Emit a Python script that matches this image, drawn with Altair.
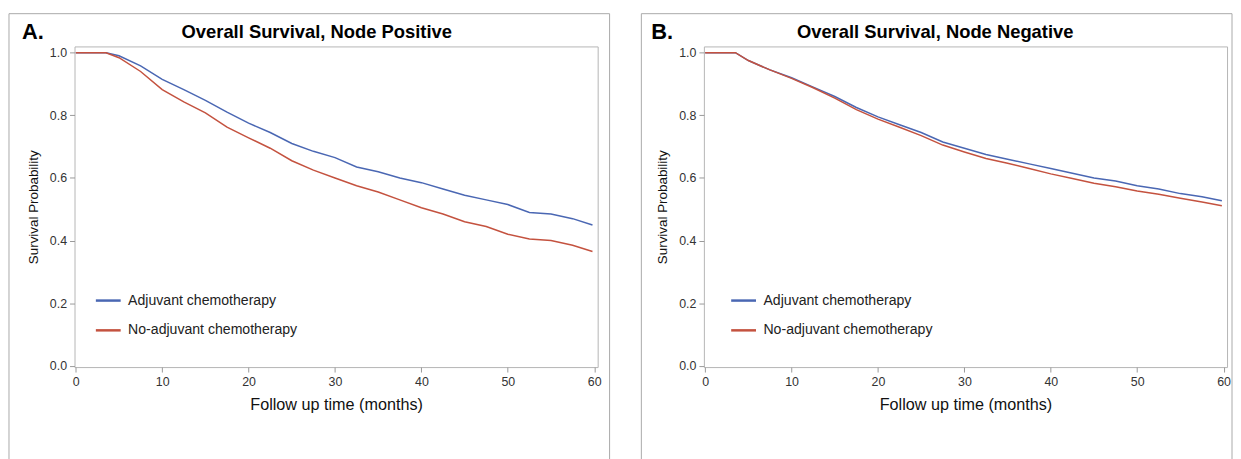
import altair as alt
import pandas as pd

# ---- data (Kaplan-Meier survival estimates) ----
months = [0, 3.5, 5, 7.5, 10, 12.5, 15, 17.5, 20, 22.5, 25, 27.5, 30,
          32.5, 35, 37.5, 40, 42.5, 45, 47.5, 50, 52.5, 55, 57.5, 59.8]

pos_adjuvant = [1.0, 1.0, 0.99, 0.958, 0.915, 0.882, 0.848, 0.81, 0.775, 0.745,
                0.71, 0.685, 0.665, 0.635, 0.62, 0.60, 0.585, 0.565, 0.545,
                0.53, 0.515, 0.49, 0.485, 0.47, 0.45]
pos_no_adjuvant = [1.0, 1.0, 0.984, 0.94, 0.882, 0.843, 0.808, 0.762, 0.728, 0.695,
                   0.655, 0.625, 0.60, 0.575, 0.555, 0.53, 0.505, 0.485, 0.46,
                   0.445, 0.42, 0.405, 0.40, 0.385, 0.365]

neg_adjuvant = [1.0, 1.0, 0.975, 0.945, 0.92, 0.89, 0.86, 0.825, 0.795, 0.77,
                0.745, 0.715, 0.695, 0.675, 0.66, 0.645, 0.63, 0.615, 0.60,
                0.59, 0.575, 0.565, 0.55, 0.54, 0.527]
neg_no_adjuvant = [1.0, 1.0, 0.975, 0.945, 0.918, 0.888, 0.855, 0.818, 0.788, 0.762,
                   0.735, 0.705, 0.683, 0.662, 0.647, 0.63, 0.613, 0.598, 0.583,
                   0.572, 0.558, 0.548, 0.535, 0.523, 0.511]

groups = ["Adjuvant chemotherapy", "No-adjuvant chemotherapy"]
colors = ["#4a67b3", "#c4523f"]
x_ticks = [0, 10, 20, 30, 40, 50, 60]
y_ticks = [0.0, 0.2, 0.4, 0.6, 0.8, 1.0]

FONT = "Liberation Sans"
W, H = 527, 323


def panel(letter, title, adj, no, frame_x, frame_x2, title_x, legend_x):
    n = len(months)
    df = pd.DataFrame({
        "month": months + months,
        "surv": adj + no,
        "group": [groups[0]] * n + [groups[1]] * n,
    })
    lines = alt.Chart(df).mark_line(strokeWidth=1.5).encode(
        x=alt.X("month:Q",
                scale=alt.Scale(domain=[-0.15, 60.4], nice=False, zero=False),
                axis=alt.Axis(values=x_ticks, title="Follow up time (months)",
                              titleFontSize=16.3, titlePadding=8, labelPadding=4)),
        y=alt.Y("surv:Q",
                scale=alt.Scale(domain=[-0.004, 1.02], nice=False, zero=False),
                axis=alt.Axis(values=y_ticks, format=".1f", title="Survival Probability",
                              titleFontSize=13.5, titlePadding=9, labelPadding=3)),
        color=alt.Color("group:N",
                        scale=alt.Scale(domain=groups, range=colors),
                        legend=alt.Legend(orient="none", legendX=legend_x, legendY=242,
                                          title=None, symbolType="stroke", symbolSize=625,
                                          symbolStrokeWidth=2.5, labelFontSize=14.2,
                                          labelFont=FONT, labelColor="#222",
                                          rowPadding=8, labelOffset=6, padding=0,
                                          labelLimit=300)),
    )
    one = pd.DataFrame({"k": [0]})
    frame = alt.Chart(one).mark_rect(fillOpacity=0, stroke="#a9a9a9", strokeWidth=1).encode(
        x=alt.value(frame_x), x2=alt.value(frame_x2), y=alt.value(-33), y2=alt.value(430))
    letter_t = alt.Chart(one).mark_text(
        text=letter, font=FONT, fontSize=22, fontWeight="bold", align="left",
        baseline="middle", color="#000").encode(x=alt.value(-53), y=alt.value(-14))
    title_t = alt.Chart(one).mark_text(
        text=title, font=FONT, fontSize=18.5, fontWeight="bold", align="center",
        baseline="middle", color="#000").encode(x=alt.value(title_x), y=alt.value(-15))
    return alt.layer(frame, lines, letter_t, title_t).properties(width=W, height=H)


pa = panel("A.", "Overall Survival, Node Positive", pos_adjuvant, pos_no_adjuvant,
           -66, 539, 244, 20)
pb = panel("B.", "Overall Survival, Node Negative", neg_adjuvant, neg_no_adjuvant,
           -63, 532, 233, 26)

chart = alt.hconcat(pa, pb, spacing=30).resolve_scale(color="independent").resolve_legend(
    color="independent").properties(
    padding={"left": 0, "top": 3, "right": 0, "bottom": 0},
    background="white",
).configure_view(stroke="#b5b5b5", strokeWidth=1).configure_axis(
    labelFont=FONT, titleFont=FONT, labelFontSize=12.5, labelColor="#333",
    titleColor="#111", titleFontWeight="normal", tickColor="#999", tickSize=5,
    domain=False, grid=False,
)

chart.save("out.html", embed_options={"renderer": "svg", "actions": False})
